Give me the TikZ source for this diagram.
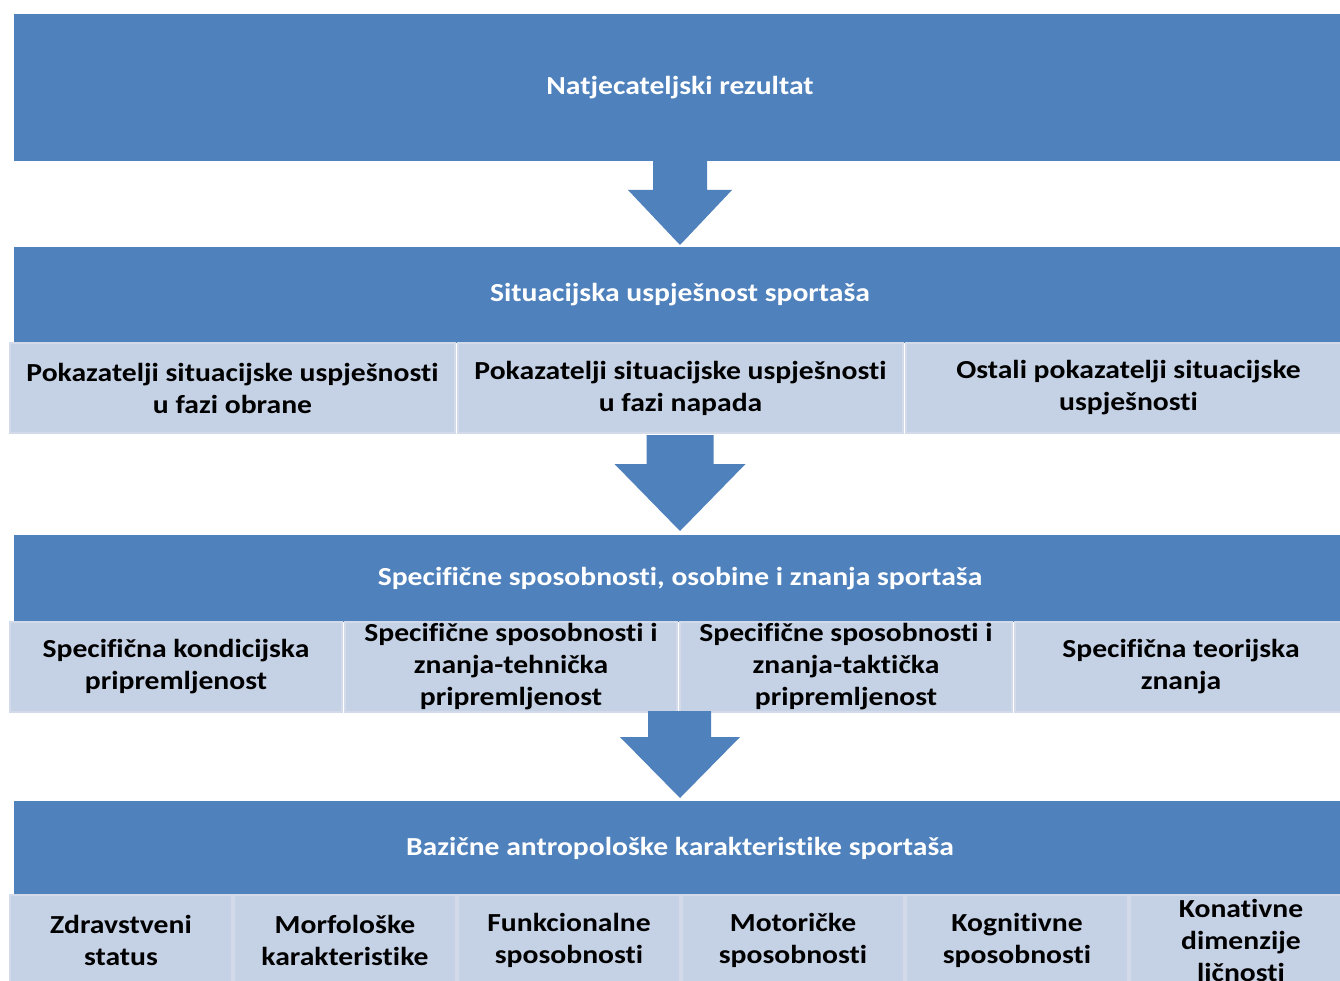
\documentclass[tikz,border=0pt]{standalone}
\usepackage{fontspec}
\setmainfont{Carlito}[FakeStretch=1.14, Ligatures=NoCommon]
\usetikzlibrary{calc}
\definecolor{hdr}{HTML}{4F81BD}
\definecolor{subfill}{HTML}{C5D1E5}
\definecolor{subedge}{HTML}{D3DBEA}
\begin{document}
\begin{tikzpicture}[x=1pt,y=-1pt,
  hdrbox/.style={fill=hdr, draw=none, text=white, inner sep=0pt, outer sep=0pt,
    anchor=north west, minimum width=1332pt,
    font=\bfseries\fontsize{26}{31}\selectfont},
  subbox/.style={fill=subfill, draw=subedge, line width=1.5pt, text=black, inner sep=0pt, outer sep=0pt,
    anchor=north west, minimum height=90pt, align=center,
    font=\bfseries\fontsize{26}{32}\selectfont},
  sub2/.style={subbox, minimum width=445pt},
  sub3/.style={subbox, minimum width=332pt},
  sub4/.style={subbox, minimum width=222pt}]
\useasboundingbox (0,0) rectangle (1340,981);
\fill[white] (0,0) rectangle (1340,981);

% level 1
\node[hdrbox, minimum height=147pt] (h1) at (14,14) {Natjecateljski rezultat};

% level 2
\node[hdrbox, minimum height=96pt] (h2) at (14,247) {Situacijska uspješnost sportaša};
\node[sub2] (s2a) at (10,343)  {Pokazatelji situacijske uspješnosti\\u fazi obrane};
\node[sub2] (s2b) at (458,343) {Pokazatelji situacijske uspješnosti\\u fazi napada};
\node[sub2] (s2c) at (906,343) {Ostali pokazatelji situacijske\\uspješnosti};

% arrow 1
\fill[hdr] ($(h1.south)+(-27,0)$) -- ($(h1.south)+(27,0)$) -- ($(h1.south)+(27,29)$)
  -- ($(h1.south)+(52,29)$) -- ($(h2.north)+(0,-2)$) -- ($(h1.south)+(-52,29)$)
  -- ($(h1.south)+(-27,29)$) -- cycle;

% level 3
\node[hdrbox, minimum height=87pt] (h3) at (14,535) {Specifične sposobnosti, osobine i znanja sportaša};

% arrow 2
\fill[hdr] ($(s2b.south)+(-34,2)$) -- ($(s2b.south)+(33,2)$) -- ($(s2b.south)+(33,31)$)
  -- ($(s2b.south)+(65,31)$) -- ($(h3.north)+(0,-4)$) -- ($(s2b.south)+(-66,31)$)
  -- ($(s2b.south)+(-34,31)$) -- cycle;

\node[sub3] (s3a) at (10,622)   {Specifična kondicijska\\pripremljenost};
\node[sub3] (s3b) at (345,622)  {Specifične sposobnosti i\\znanja-tehnička\\pripremljenost};
\node[sub3] (s3c) at (680,622)  {Specifične sposobnosti i\\znanja-taktička\\pripremljenost};
\node[sub3] (s3d) at (1015,622) {Specifična teorijska\\znanja};

% level 4
\node[hdrbox, minimum height=94pt] (h4) at (14,801) {Bazične antropološke karakteristike sportaša};

% arrow 3
\fill[hdr] ($(h3.south)+(-32,89)$) -- ($(h3.south)+(31,89)$) -- ($(h3.south)+(31,115)$)
  -- ($(h3.south)+(60,115)$) -- ($(h4.north)+(0,-3)$) -- ($(h3.south)+(-60,115)$)
  -- ($(h3.south)+(-32,115)$) -- cycle;

\node[sub4] (s4a) at (10,895)   {Zdravstveni\\status};
\node[sub4] (s4b) at (234,895)  {Morfološke\\karakteristike};
\node[sub4] (s4c) at (458,895)  {Funkcionalne\\sposobnosti};
\node[sub4] (s4d) at (682,895)  {Motoričke\\sposobnosti};
\node[sub4] (s4e) at (906,895)  {Kognitivne\\sposobnosti};
\node[sub4] (s4f) at (1130,895) {Konativne\\dimenzije\\ličnosti};
\end{tikzpicture}
\end{document}
